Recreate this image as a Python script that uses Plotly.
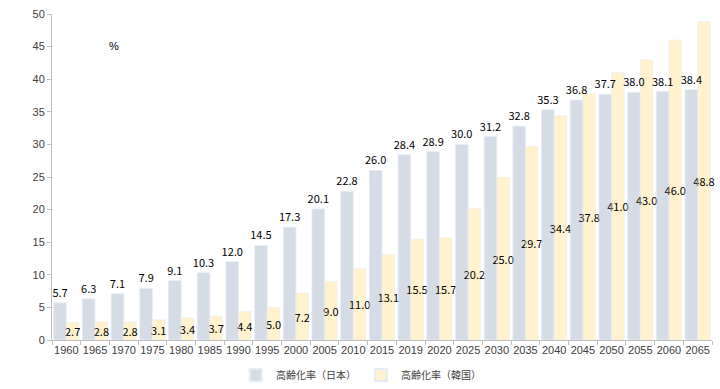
import plotly.graph_objects as go

years = ["1960", "1965", "1970", "1975", "1980", "1985", "1990", "1995", "2000", "2005",
         "2010", "2015", "2019", "2020", "2025", "2030", "2035", "2040", "2045", "2050",
         "2055", "2060", "2065"]
japan = [5.7, 6.3, 7.1, 7.9, 9.1, 10.3, 12.0, 14.5, 17.3, 20.1, 22.8, 26.0, 28.4, 28.9,
         30.0, 31.2, 32.8, 35.3, 36.8, 37.7, 38.0, 38.1, 38.4]
korea = [2.7, 2.8, 2.8, 3.1, 3.4, 3.7, 4.4, 5.0, 7.2, 9.0, 11.0, 13.1, 15.5, 15.7,
         20.2, 25.0, 29.7, 34.4, 37.8, 41.0, 43.0, 46.0, 48.8]
name_jp = "高齢化率（日本）"
name_kr = "高齢化率（韓国）"

label_font = dict(family="Noto Sans CJK JP, sans-serif", size=11, color="#000000")
w = 0.44

fig = go.Figure()
fig.add_trace(go.Bar(
    x=years, y=japan, name=name_jp, marker_color="#D6DCE5",
    width=w, offset=-w, hoverinfo="skip",
))
fig.add_trace(go.Bar(
    x=years, y=korea, name=name_kr, marker_color="#FFF2CC",
    width=w, offset=0,
    text=[f"{v:.1f}" for v in korea], textposition="inside", insidetextanchor="middle",
    textangle=0, textfont=label_font, insidetextfont=label_font,
    cliponaxis=False, constraintext="none",
))
# Japan value labels, drawn last so they sit above the Korea bars
fig.add_trace(go.Bar(
    x=years, y=japan, name=name_jp, showlegend=False,
    marker_color="rgba(0,0,0,0)", width=w, offset=-w,
    text=[f"{v:.1f}" for v in japan], textposition="outside", textangle=0,
    textfont=label_font, outsidetextfont=label_font, cliponaxis=False, constraintext="none",
))

fig.update_layout(
    width=720, height=389,
    margin=dict(l=52, r=8, t=14, b=49, autoexpand=False),
    paper_bgcolor="white", plot_bgcolor="white",
    barmode="overlay",
    font=dict(family="Liberation Sans, Arial, sans-serif", size=11, color="#404040"),
    showlegend=True,
    legend=dict(orientation="h", x=0.468, xanchor="center", y=-0.107, yanchor="middle",
                font=dict(family="Noto Sans CJK JP, sans-serif", size=10, color="#404040"),
                itemsizing="constant", traceorder="normal"),
    xaxis=dict(type="category", showgrid=False, showline=True, linecolor="#BFBFBF",
               ticks="outside", tickson="boundaries", ticklen=4, tickcolor="#BFBFBF",
               tickangle=0, automargin=False,
               tickfont=dict(size=11, color="#404040")),
    yaxis=dict(range=[0, 50], dtick=5, showgrid=False, showline=True, linecolor="#BFBFBF",
               ticks="outside", ticklen=4, tickcolor="#BFBFBF", zeroline=False,
               automargin=False, tickfont=dict(size=11, color="#404040")),
    annotations=[dict(text="%", xref="paper", yref="paper", x=0.083, y=0.926,
                      showarrow=False, font=dict(size=11, color="#000000"))],
)

fig.write_html("out.html", config={"displayModeBar": False},
               post_script="document.body.style.margin='0';document.body.style.overflow='hidden';")
